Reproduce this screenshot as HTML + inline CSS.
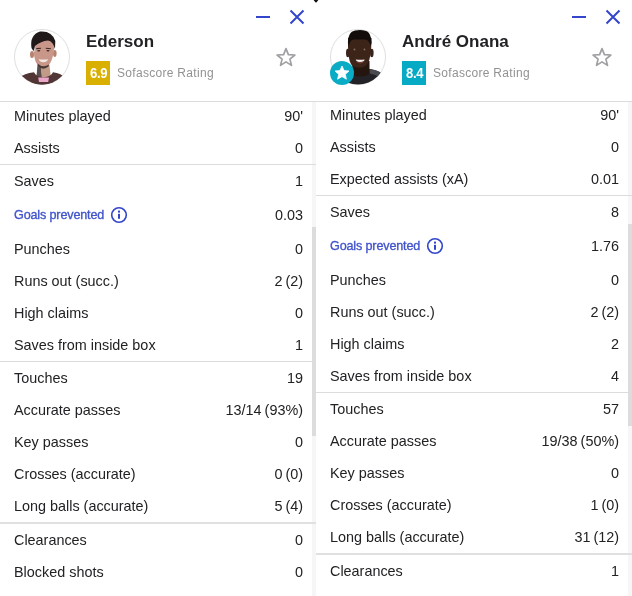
<!DOCTYPE html>
<html><head><meta charset="utf-8">
<style>
*{margin:0;padding:0;box-sizing:border-box}
html,body{width:632px;height:596px;overflow:hidden;background:#fff}
body{font-family:"Liberation Sans",sans-serif;color:#222226;position:relative}
.panel{position:absolute;top:0;width:316px;height:596px;overflow:hidden;background:#fff;will-change:transform}
#p1{left:0}
#p2{left:316px}
.row{position:absolute;left:14px;width:289px;height:32px;line-height:32px;font-size:14.4px}
.row .v{position:absolute;right:0;top:0;word-spacing:-1px}
.gp{color:#4254cc;font-size:12.6px;letter-spacing:-0.15px;-webkit-text-stroke:0.35px #4254cc;position:relative;top:-1px}
.sep{position:absolute;left:0;width:316px;height:1px;background:#dcdcdc;z-index:2}
.track{position:absolute;right:0;top:102px;width:4px;height:494px;background:#f6f6f7}
.thumb{position:absolute;right:0;width:4px;background:#dcdcde}
.name{position:absolute;left:86px;top:32px;font-size:17px;font-weight:bold;line-height:20px;white-space:nowrap}
.badge{position:absolute;left:86px;top:61px;width:24px;height:24px;color:#fff;font-weight:bold;font-size:14.5px;line-height:24px;text-align:center}
.badge span{display:inline-block;transform:scaleX(0.9);letter-spacing:-0.3px;position:relative;left:1px}
.rt{position:absolute;left:117px;top:66px;font-size:12px;letter-spacing:0.3px;line-height:14px;color:#929294;white-space:nowrap}
.av{position:absolute;left:14px;top:29px;width:56px;height:56px}
.ico{position:absolute}
</style></head><body>

<!-- LEFT PANEL -->
<div class="panel" id="p1">
  <svg class="av" viewBox="0 0 56 56" width="56" height="56">
    <defs><clipPath id="c1"><circle cx="28" cy="28" r="27.5"/></clipPath></defs>
    <circle cx="28" cy="28" r="27.5" fill="#fff" stroke="#dedede" stroke-width="1"/>
    <g clip-path="url(#c1)">
      <path d="M24 33 L22.5 49 L37 49 L35 33 Z" fill="#c29b88"/>
      <path d="M23.6 35.5 L22.3 49.5 L28 49.5 Q26.5 43 27 37 Z" fill="#5a4e4c"/>
      <path d="M3 57 L5.5 48.5 Q10 44.5 20 43.2 Q22 47.5 29.5 48.5 Q37 47.5 39 43.2 Q47 44.5 50.5 48 L53 57 Z" fill="#523535"/>
      <path d="M24.2 48.6 L35 48.6 L34.2 53 L25 53 Z" fill="#eba7c9"/>
      <path d="M18 53 L41 53 L42 57 L17 57 Z" fill="#523535"/>
      <ellipse cx="18" cy="25.5" rx="2" ry="3.6" fill="#b88270"/>
      <ellipse cx="40.8" cy="24.5" rx="1.8" ry="3.4" fill="#b88270"/>
      <path d="M19.5 12 Q19 30 23 35 Q28.5 39.5 34.5 36 Q40 31 40.5 12 Q30 6 19.5 12 Z" fill="#c9978a"/>
      <path d="M23.5 34.5 Q29 39.5 35 35.5 L34.5 37.5 Q29 42 24 37 Z" fill="#4a3a36"/>
      <path d="M18.8 22 Q18.3 17 19.3 14 L22 14 Q20.5 18 21.3 23 Z" fill="#d0cac7"/>
      <path d="M17.5 19 Q15.5 6 26 2.5 Q38 1.5 41.3 12 L41 20 Q39 12 34 11.5 Q27 12 21 17 L19.5 22 Z" fill="#1f1919"/>
      <path d="M22.3 19.6 L27 19.2 M31.8 19.2 L36.8 19.8" stroke="#3a2824" stroke-width="1.1"/>
      <ellipse cx="24.8" cy="21.8" rx="1.6" ry="0.8" fill="#3a2824"/>
      <ellipse cx="34" cy="21.8" rx="1.6" ry="0.8" fill="#3a2824"/>
      <path d="M24.8 30.3 Q29.3 30.9 33.9 30.3 Q33.5 33 29.3 33.2 Q25.3 33 24.8 30.3 Z" fill="#f3e7e2"/>
    </g>
  </svg>
  <div class="name">Ederson</div>
  <div class="badge" style="background:#d9af00"><span>6.9</span></div>
  <div class="rt">Sofascore Rating</div>
  <!-- minimize -->
  <div class="ico" style="left:256px;top:16px;width:14px;height:2px;background:#3346cc"></div>
  <svg class="ico" style="left:289px;top:9px" width="16" height="16" viewBox="0 0 16 16"><path d="M1.5 1.5 L14.5 14.5 M14.5 1.5 L1.5 14.5" stroke="#3346cc" stroke-width="2"/></svg>
  <!-- star -->
  <svg class="ico" style="left:275px;top:46px" width="22" height="22" viewBox="0 0 22 22"><path d="M11 2.6 L13.4 8.6 L19.9 9 L14.9 13.1 L16.5 19.4 L11 15.9 L5.5 19.4 L7.1 13.1 L2.1 9 L8.6 8.6 Z" fill="none" stroke="#a0a0a4" stroke-width="1.7" stroke-linejoin="round"/></svg>

  <div class="row" style="top:100px">Minutes played<span class="v">90'</span></div>
  <div class="row" style="top:132px">Assists<span class="v">0</span></div>
  <div class="sep" style="top:164px"></div>
  <div class="row" style="top:165px">Saves<span class="v">1</span></div>
  <svg class="ico" style="left:110px;top:206px" width="18" height="18" viewBox="0 0 18 18"><circle cx="9" cy="9" r="7.3" fill="none" stroke="#3347c8" stroke-width="1.6"/><rect x="8" y="4.6" width="2" height="2" fill="#3347c8"/><rect x="8" y="7.8" width="2" height="5" fill="#3347c8"/></svg>
  <div class="row" style="top:199px"><span class="gp">Goals prevented</span><span class="v">0.03</span></div>
  <div class="row" style="top:233px">Punches<span class="v">0</span></div>
  <div class="row" style="top:265px">Runs out (succ.)<span class="v">2 (2)</span></div>
  <div class="row" style="top:297px">High claims<span class="v">0</span></div>
  <div class="row" style="top:329px">Saves from inside box<span class="v">1</span></div>
  <div class="sep" style="top:361px"></div>
  <div class="row" style="top:362px">Touches<span class="v">19</span></div>
  <div class="row" style="top:394px">Accurate passes<span class="v">13/14 (93%)</span></div>
  <div class="row" style="top:426px">Key passes<span class="v">0</span></div>
  <div class="row" style="top:458px">Crosses (accurate)<span class="v">0 (0)</span></div>
  <div class="row" style="top:490px">Long balls (accurate)<span class="v">5 (4)</span></div>
  <div class="sep" style="top:522px;height:2px;background:#e0e0e0"></div>
  <div class="row" style="top:524px">Clearances<span class="v">0</span></div>
  <div class="row" style="top:556px">Blocked shots<span class="v">0</span></div>
  <div class="sep" style="top:101px"></div>
  <div class="track"></div>
  <div class="thumb" style="top:227px;height:209px"></div>
</div>

<!-- RIGHT PANEL -->
<div class="panel" id="p2">
  <svg class="av" viewBox="0 0 56 56" width="56" height="56">
    <defs><clipPath id="c2"><circle cx="28" cy="28" r="27.5"/></clipPath></defs>
    <circle cx="28" cy="28" r="27.5" fill="#fff" stroke="#dedede" stroke-width="1"/>
    <g clip-path="url(#c2)">
      <path d="M8 56 L12 48 Q18 42 24 41 L40 40 Q48 41 53 46 L56 56 Z" fill="#232327"/>
      <path d="M39 40.5 Q46 40.5 51 43.5 L49.5 48.5 Q45 45 39.5 44.5 Z" fill="#4a4a51"/>
      <path d="M22 32 L22.5 46 Q31 49.5 39.5 45 L39.5 32 Z" fill="#24150f"/>
      <ellipse cx="17.8" cy="24" rx="1.8" ry="4.2" fill="#3a231a"/>
      <ellipse cx="41.8" cy="24" rx="1.8" ry="4.2" fill="#3a231a"/>
      <path d="M18 9 Q17.5 32 22 36.5 Q29 41 36 36.5 Q41.5 32 41.5 9 Z" fill="#3d2419"/>
      <path d="M18 14 Q17.5 3 25 1.5 Q30 0.5 35 1.5 Q41.5 3 41.5 14 L40.5 17 Q39.5 11 35 10.5 L24 10.5 Q19.5 11 19 17 Z" fill="#120c0a"/>
      <path d="M26 32.5 Q30 36.5 34.5 32.5 Q30 34 26 32.5 Z" fill="#7a3c3c"/>
      <path d="M25.8 30.4 Q30 31 34.6 30.4 Q34.5 32.8 30 33 Q26 32.8 25.8 30.4 Z" fill="#f3eeea"/>
      <circle cx="24.5" cy="20.5" r="0.9" fill="#8a6a60"/>
      <circle cx="34.5" cy="20.5" r="0.9" fill="#8a6a60"/>
    </g>
  </svg>
  <svg class="ico" style="left:14px;top:61px" width="24" height="24" viewBox="0 0 24 24">
    <circle cx="12" cy="12" r="12" fill="#0aabc5"/>
    <path d="M12 5 L14.1 9.6 L19 10 L15.3 13.3 L16.4 18.2 L12 15.6 L7.6 18.2 L8.7 13.3 L5 10 L9.9 9.6 Z" fill="#fff" stroke="#fff" stroke-width="0.8" stroke-linejoin="round"/>
  </svg>
  <div class="name">André Onana</div>
  <div class="badge" style="background:#07aac5"><span>8.4</span></div>
  <div class="rt">Sofascore Rating</div>
  <div class="ico" style="left:256px;top:16px;width:14px;height:2px;background:#3346cc"></div>
  <svg class="ico" style="left:289px;top:9px" width="16" height="16" viewBox="0 0 16 16"><path d="M1.5 1.5 L14.5 14.5 M14.5 1.5 L1.5 14.5" stroke="#3346cc" stroke-width="2"/></svg>
  <svg class="ico" style="left:275px;top:46px" width="22" height="22" viewBox="0 0 22 22"><path d="M11 2.6 L13.4 8.6 L19.9 9 L14.9 13.1 L16.5 19.4 L11 15.9 L5.5 19.4 L7.1 13.1 L2.1 9 L8.6 8.6 Z" fill="none" stroke="#a0a0a4" stroke-width="1.7" stroke-linejoin="round"/></svg>

  <div class="row" style="top:99px">Minutes played<span class="v">90'</span></div>
  <div class="row" style="top:131px">Assists<span class="v">0</span></div>
  <div class="row" style="top:163px">Expected assists (xA)<span class="v">0.01</span></div>
  <div class="sep" style="top:195px"></div>
  <div class="row" style="top:196px">Saves<span class="v">8</span></div>
  <svg class="ico" style="left:110px;top:237px" width="18" height="18" viewBox="0 0 18 18"><circle cx="9" cy="9" r="7.3" fill="none" stroke="#3347c8" stroke-width="1.6"/><rect x="8" y="4.6" width="2" height="2" fill="#3347c8"/><rect x="8" y="7.8" width="2" height="5" fill="#3347c8"/></svg>
  <div class="row" style="top:230px"><span class="gp">Goals prevented</span><span class="v">1.76</span></div>
  <div class="row" style="top:264px">Punches<span class="v">0</span></div>
  <div class="row" style="top:296px">Runs out (succ.)<span class="v">2 (2)</span></div>
  <div class="row" style="top:328px">High claims<span class="v">2</span></div>
  <div class="row" style="top:360px">Saves from inside box<span class="v">4</span></div>
  <div class="sep" style="top:392px"></div>
  <div class="row" style="top:393px">Touches<span class="v">57</span></div>
  <div class="row" style="top:425px">Accurate passes<span class="v">19/38 (50%)</span></div>
  <div class="row" style="top:457px">Key passes<span class="v">0</span></div>
  <div class="row" style="top:489px">Crosses (accurate)<span class="v">1 (0)</span></div>
  <div class="row" style="top:521px">Long balls (accurate)<span class="v">31 (12)</span></div>
  <div class="sep" style="top:553px;height:2px;background:#e0e0e0"></div>
  <div class="row" style="top:555px">Clearances<span class="v">1</span></div>
  <div class="sep" style="top:101px"></div>
  <div class="track"></div>
  <div class="thumb" style="top:224px;height:202px"></div>
</div>
<svg style="position:absolute;left:312px;top:0" width="8" height="4" viewBox="0 0 8 4"><path d="M1.6 0 L6.4 0 L4.6 2.2 Q4 2.8 3.4 2.2 Z" fill="#111"/></svg>
</body></html>
